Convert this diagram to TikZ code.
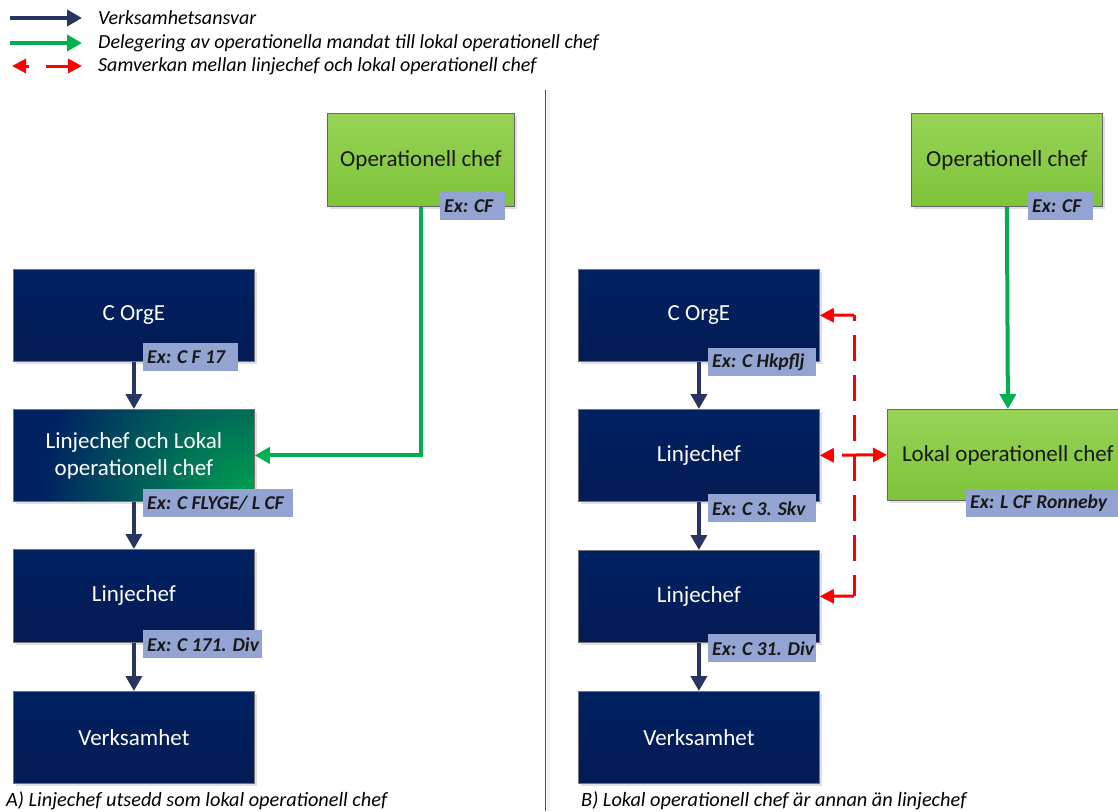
\documentclass[tikz,border=0pt]{standalone}
\usepackage{fontspec}
\setmainfont{Carlito}
\usetikzlibrary{arrows.meta,shadows}

\definecolor{navytop}{RGB}{0,33,98}
\definecolor{navybot}{RGB}{4,27,84}
\definecolor{leaftop}{RGB}{151,211,86}
\definecolor{leafbot}{RGB}{127,196,58}
\definecolor{tagblue}{RGB}{147,163,210}
\definecolor{inkblue}{RGB}{40,52,98}
\definecolor{delegreen}{RGB}{0,176,80}
\definecolor{glowgreen}{RGB}{0,160,80}
\definecolor{coopred}{RGB}{255,0,0}

\newcommand{\tagtext}[2]{\makebox[#1][l]{#2}}

\tikzset{
  boxbase/.style={rectangle, anchor=north west, inner sep=0pt, align=center,
    draw=black!55, line width=0.8pt,
    font=\fontsize{23}{27}\selectfont,
    drop shadow={shadow xshift=3pt, shadow yshift=-3pt, fill=black, opacity=0.12}},
  navybox/.style={boxbase, top color=navytop, bottom color=navybot, text=white,
    minimum width=241pt, minimum height=92pt},
  leafbox/.style={boxbase, top color=leaftop, bottom color=leafbot, text=black!90,
    draw=black!60},
  tagbox/.style={rectangle, anchor=north west, fill=tagblue, inner xsep=4pt,
    inner ysep=0pt, minimum height=28pt, text=black!90,
    font=\fontsize{19.6}{22}\selectfont\bfseries\itshape},
  duty/.style={draw=inkblue, line width=4pt, -{Triangle[length=15pt,width=16pt]}},
  mandate/.style={draw=delegreen, line width=4pt, -{Triangle[length=15pt,width=16pt]}},
  coop/.style={draw=coopred, line width=3pt},
  cooptip/.style={coop, -{Triangle[length=14pt,width=14pt]}},
  keytext/.style={anchor=west, inner sep=0pt, font=\fontsize{20}{24}\selectfont\itshape},
  caption/.style={anchor=west, inner sep=0pt, font=\fontsize{20.3}{24}\selectfont\itshape}
}

\begin{document}
\begin{tikzpicture}[x=1pt,y=-1pt]
\clip (0,0) rectangle (1118,811);
\fill[white] (0,0) rectangle (1118,811);

% key
\coordinate (k1a) at (10,18);  \coordinate (k1b) at (82,18);
\coordinate (k2a) at (10,43);  \coordinate (k2b) at (82,43);
\coordinate (k3a) at (12,66);  \coordinate (k3b) at (82,66);
\draw[duty] (k1a) -- (k1b);
\draw[mandate] (k2a) -- (k2b);
\draw[coop, {Triangle[length=14pt,width=14pt]}-{Triangle[length=14pt,width=14pt]},
      dash pattern=on 4pt off 17pt on 60pt] (k3a) -- (k3b);
\node[keytext] (t1) at (98,18) {Verksamhetsansvar};
\node[keytext] (t2) at (98,43) {Delegering av operationella mandat till lokal operationell chef};
\node[keytext] (t3) at (98,66) {Samverkan mellan linjechef och lokal operationell chef};

% divider between the two cases
\coordinate (d1) at (545.5,90);
\coordinate (d2) at (545.5,811);
\draw[black!5, line width=3pt] ([xshift=2.5pt]d1) -- ([xshift=2.5pt]d2);
\draw[black!70, line width=1pt] (d1) -- (d2);

% ---------- case A ----------
\node[leafbox, minimum width=187pt, minimum height=93pt] (aop) at (327,113) {Operationell chef};
\node[navybox] (aorg) at (13,269) {C OrgE};
\node[navybox, top color=navytop, bottom color=navytop,
  path picture={
    \fill[navytop] (path picture bounding box.south west) rectangle (path picture bounding box.north east);
    \shade[inner color=glowgreen, outer color=navytop]
      ([xshift=-4pt,yshift=4pt]path picture bounding box.south east) circle (210pt);
  }] (aboth) at (13,409) {Linjechef och Lokal\\operationell chef};
\node[navybox, minimum height=93pt] (aline) at (13,549) {Linjechef};
\node[navybox] (aact) at (13,691) {Verksamhet};

\node[tagbox] (aoptag) at (440,192) {\tagtext{57pt}{Ex: CF}};
\node[tagbox] (aorgtag) at (143,343) {\tagtext{87pt}{Ex: C F 17}};
\node[tagbox] (abothtag) at (143,489) {\tagtext{142pt}{Ex: C FLYGE/ L CF}};
\node[tagbox] (alinetag) at (143,630) {\tagtext{111pt}{Ex: C 171. Div}};

\draw[duty] (aorg.south) -- (aboth.north);
\draw[duty] (aboth.south) -- (aline.north);
\draw[duty] (aline.south) -- (aact.north);
\draw[mandate] (aop.south) |- (aboth.east);

\node[caption] (capa) at (6,801) {A) Linjechef utsedd som lokal operationell chef};

% ---------- case B ----------
\node[leafbox, minimum width=191pt, minimum height=93pt] (bop) at (911,113) {Operationell chef};
\node[navybox] (borg) at (578,269) {C OrgE};
\node[navybox] (bline) at (578,409) {Linjechef};
\node[navybox, minimum height=92pt] (bsub) at (578,550) {Linjechef};
\node[navybox] (bact) at (578,691) {Verksamhet};
\node[leafbox, minimum width=241pt, minimum height=91pt] (bloc) at (887,409) {Lokal operationell chef};

\node[tagbox] (boptag) at (1028,192) {\tagtext{57pt}{Ex: CF}};
\node[tagbox] (borgtag) at (708,348) {\tagtext{100pt}{Ex: C Hkpflj}};
\node[tagbox] (blinetag) at (708,494) {\tagtext{100pt}{Ex: C 3. Skv}};
\node[tagbox] (bsubtag) at (708,634) {\tagtext{100pt}{Ex: C 31. Div}};
\node[tagbox] (bloctag) at (966,489) {\tagtext{160pt}{Ex: L CF Ronneby}};

\draw[duty] (borg.south) -- (bline.north);
\draw[duty] (bline.south) -- (bsub.north);
\draw[duty] (bsub.south) -- (bact.north);
\draw[mandate] (bop.south) -- (bloc.north);

% cooperation links
\coordinate (ctop) at (854,315);
\coordinate (cmid) at (854,455);
\coordinate (cbot) at (854,596);
\draw[coop, dash pattern=on 26pt off 14pt, dash phase=20pt] (ctop) -- (cbot);
\draw[cooptip] (ctop) -- (borg.east);
\draw[cooptip, dash pattern=on 12pt off 12pt on 40pt] (cmid) -- (bline.east);
\draw[cooptip] (cmid) -- (bloc.west);
\draw[cooptip] (cbot) -- (bsub.east);

\node[caption] (capb) at (581,801) {B) Lokal operationell chef är annan än linjechef};
\end{tikzpicture}
\end{document}
